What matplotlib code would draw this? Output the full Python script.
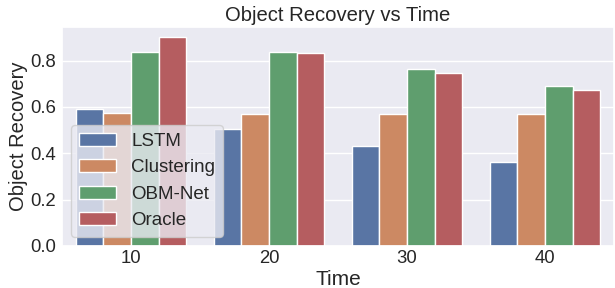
import numpy as np
import pandas as pd
import matplotlib
matplotlib.use('Agg')
import matplotlib.pyplot as plt
import seaborn as sns

# 数据
times = [10, 20, 30, 40]
methods = ['LSTM', 'Clustering', 'OBM-Net', 'Oracle']
lstm = [0.590, 0.505, 0.433, 0.363]
clustering = [0.573, 0.569, 0.570, 0.570]
obm_net = [0.839, 0.837, 0.765, 0.691]
oracle = [0.901, 0.831, 0.747, 0.671]

sns.set_theme(style='darkgrid')
plt.rcParams['font.family'] = ['Liberation Sans', 'DejaVu Sans']

rows = []
for name, vals in zip(methods, [lstm, clustering, obm_net, oracle]):
    for t, v in zip(times, vals):
        rows.append({'Time': t, 'Method': name, 'Object Recovery': v})
df = pd.DataFrame(rows)

fig = plt.figure(figsize=(6.15, 2.88), dpi=100)
ax = fig.add_axes([62 / 615, 42 / 288, 552 / 615, 219 / 288])
sns.barplot(data=df, x='Time', y='Object Recovery', hue='Method',
            hue_order=methods, ax=ax, saturation=0.75, edgecolor='white', linewidth=1)

ax.set_title('Object Recovery vs Time', fontsize=14.6, pad=4)
ax.set_xlabel('Time', fontsize=15, labelpad=2)
ax.set_ylabel('Object Recovery', fontsize=14.5, labelpad=1)
# 刻度线不可见, 长度设为0免得把标签推远
ax.tick_params(axis='x', labelsize=13.3, pad=3, length=0)
ax.tick_params(axis='y', labelsize=13.3, pad=4.5, length=0)
ax.set_ylim(0, 0.945)
ax.set_yticks([0.0, 0.2, 0.4, 0.6, 0.8])
ax.legend(loc='lower left', fontsize=13.5, borderaxespad=0.5,
          handlelength=2.0, labelspacing=0.5)

fig.savefig('out.png', dpi=100)
